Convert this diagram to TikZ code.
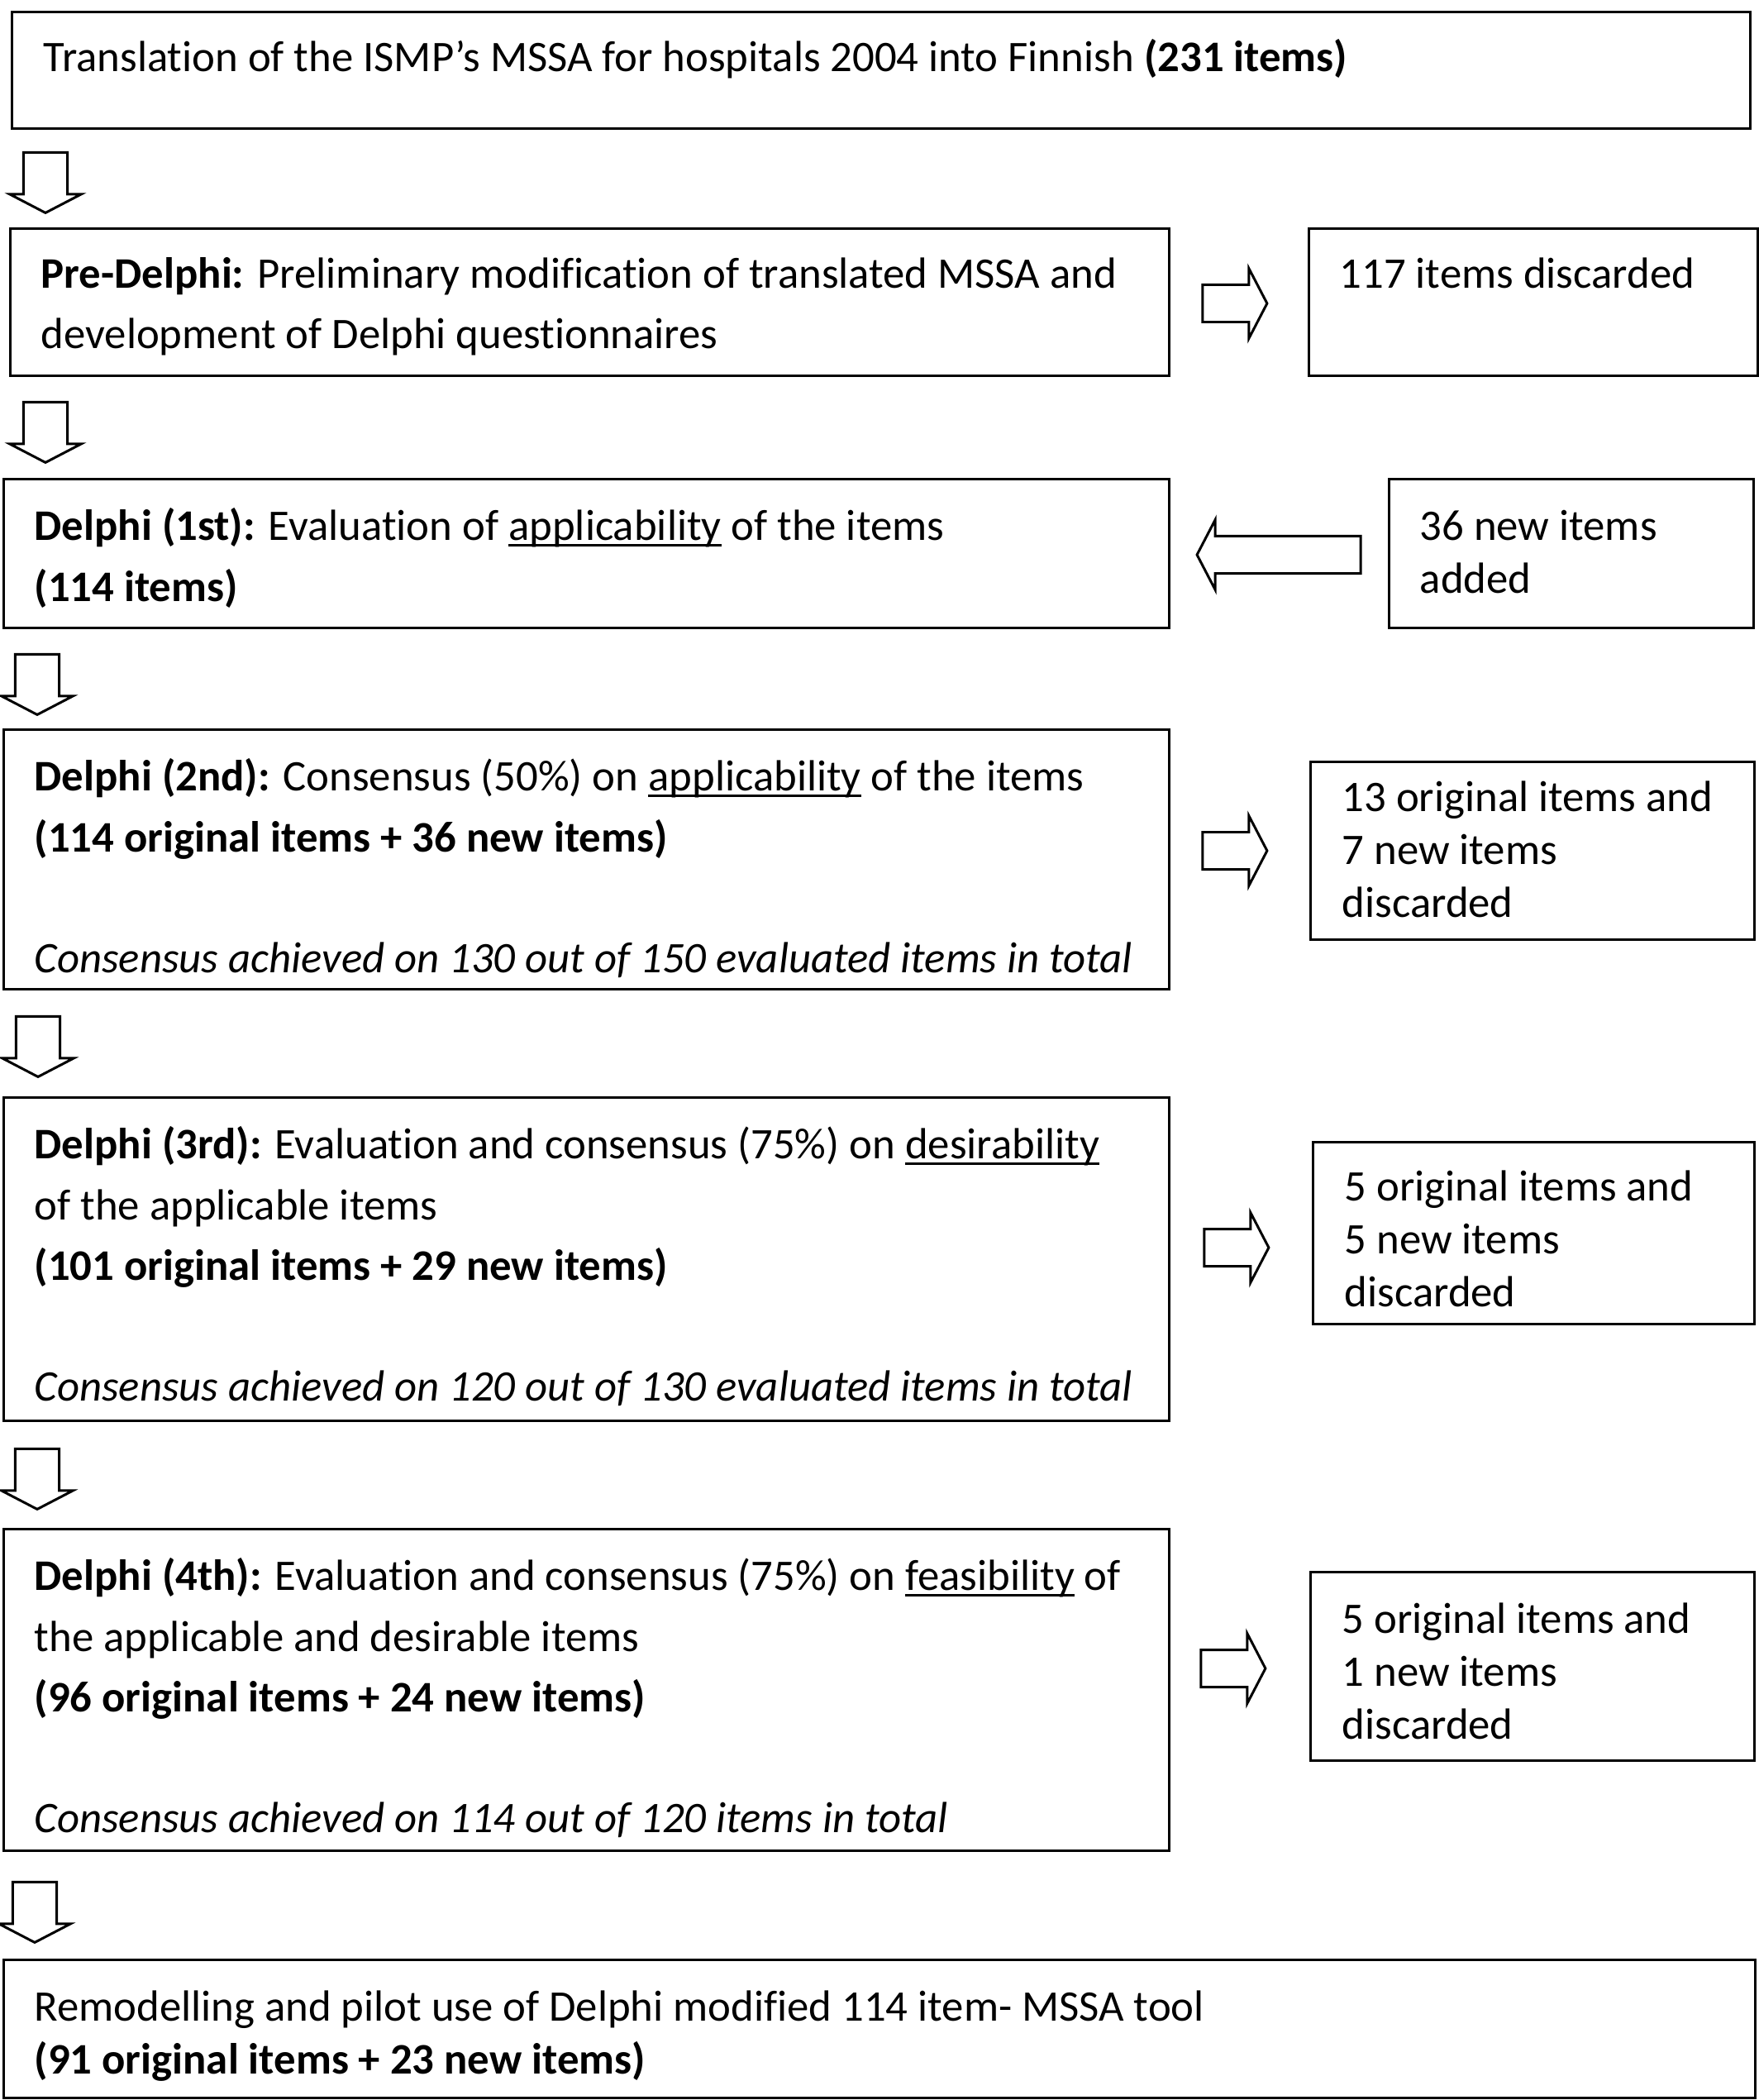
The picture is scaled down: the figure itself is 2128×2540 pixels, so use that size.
\documentclass[tikz,border=0pt]{standalone}
\usepackage{fontspec}
\setmainfont{Carlito}[Ligatures=NoCommon]
\usepackage{tikz}
\usetikzlibrary{shapes.arrows,positioning}

% underline sitting just under the baseline, as in the source
\newcommand{\uln}[1]{\setbox0\hbox{#1}\rlap{\rule[-0.13em]{\wd0}{0.06em}}\box0\relax}

\begin{document}
\begin{tikzpicture}[
  x=0.01cm, y=-0.01cm,
  box/.style={draw, line width=0.85pt, anchor=north west, inner sep=0pt},
  txt/.style={inner sep=0pt, align=left, font=\fontsize{15pt}{20.8pt}\selectfont},
  stxt/.style={txt, font=\fontsize{15pt}{18.2pt}\selectfont},
  darr/.style={draw, line width=0.85pt, single arrow, rotate=-90, minimum height=0.73cm, minimum width=0.84cm,
    inner xsep=0pt, inner ysep=0.25cm, single arrow head extend=0.17cm, single arrow tip angle=125},
  rarr/.style={draw, line width=0.85pt, single arrow, minimum height=0.78cm, minimum width=0.82cm,
    inner xsep=0pt, inner ysep=0.21cm, single arrow head extend=0.2cm, single arrow tip angle=125},
  node distance=0.36cm and 0.38cm
]
\useasboundingbox (0,0) rectangle (2128,2540);

% main column
\node[box, minimum width=21.02cm, minimum height=1.41cm] (trans) at (13,13) {};
\node[txt, below right=0.34cm and 0.39cm of trans.north west] (transtxt)
  {Translation of the ISMP’s MSSA for hospitals 2004 into Finnish \textbf{(231 items)}};

\node[box, minimum width=14.01cm, minimum height=1.78cm] (pre) at (11,275) {};
\node[txt, below right=of pre.north west] (pretxt)
  {\textbf{Pre-Delphi:} Preliminary modification of translated MSSA and\\
   development of Delphi questionnaires};

\node[box, minimum width=14.09cm, minimum height=1.80cm] (dfirst) at (3,578) {};
\node[txt, below right=of dfirst.north west] (dfirsttxt)
  {\textbf{Delphi (1st):} Evaluation of \uln{applicability} of the items\\
   \textbf{(114 items)}};

\node[box, minimum width=14.09cm, minimum height=3.14cm] (dsecond) at (3,881) {};
\node[txt, below right=of dsecond.north west] (dsecondtxt)
  {\textbf{Delphi (2nd):} Consensus (50\%) on \uln{applicability} of the items\\
   \textbf{(114 original items + 36 new items)}\\[0.73cm]
   \textit{Consensus achieved on 130 out of 150 evaluated items in total}};

\node[box, minimum width=14.09cm, minimum height=3.91cm] (dthird) at (3,1326) {};
\node[txt, below right=of dthird.north west] (dthirdtxt)
  {\textbf{Delphi (3rd):} Evaluation and consensus (75\%) on \uln{desirability}\\
   of the applicable items\\
   \textbf{(101 original items + 29 new items)}\\[0.73cm]
   \textit{Consensus achieved on 120 out of 130 evaluated items in total}};

\node[box, minimum width=14.09cm, minimum height=3.89cm] (dfourth) at (3,1848) {};
\node[txt, below right=of dfourth.north west] (dfourthtxt)
  {\textbf{Delphi (4th):} Evaluation and consensus (75\%) on \uln{feasibility} of\\
   the applicable and desirable items\\
   \textbf{(96 original items + 24 new items)}\\[0.73cm]
   \textit{Consensus achieved on 114 out of 120 items in total}};

\node[box, minimum width=21.18cm, minimum height=1.67cm] (final) at (3,2369) {};
\node[stxt, below right=0.38cm and 0.38cm of final.north west] (finaltxt)
  {Remodelling and pilot use of Delphi modified 114 item- MSSA tool\\
   \textbf{(91 original items + 23 new items)}};

% side boxes
\node[box, minimum width=5.43cm, minimum height=1.78cm] (discA) at (1582,275) {};
\node[stxt, below right=of discA.north west] (discAtxt) {117 items discarded};

\node[box, minimum width=4.41cm, minimum height=1.80cm] (added) at (1679,578) {};
\node[stxt, below right=0.38cm and 0.38cm of added.north west] (addedtxt) {36 new items\\added};

\node[box, minimum width=5.37cm, minimum height=2.15cm] (discB) at (1584,920) {};
\node[stxt, below right=0.24cm and 0.39cm of discB.north west] (discBtxt)
  {13 original items and\\7 new items\\discarded};

\node[box, minimum width=5.34cm, minimum height=2.20cm] (discC) at (1587,1380) {};
\node[stxt, below right=0.35cm and 0.39cm of discC.north west] (discCtxt)
  {5 original items and\\5 new items\\discarded};

\node[box, minimum width=5.37cm, minimum height=2.28cm] (discD) at (1584,1900) {};
\node[stxt, below right=0.38cm and 0.39cm of discD.north west] (discDtxt)
  {5 original items and\\1 new items\\discarded};

% block arrows
\node[darr] (down1) at (55,214) {};
\node[darr] (down2) at (55,516) {};
\node[darr] (down3) at (45,821) {};
\node[darr] (down4) at (46,1259) {};
\node[darr] (down5) at (45,1782) {};
\node[darr] (down6) at (42,2306) {};

\node[rarr] (toA) at (1488,367) {};
\node[rarr, rotate=180, minimum height=1.98cm] (fromadd) at (1553,671) {};
\node[rarr] (toB) at (1488,1029) {};
\node[rarr] (toC) at (1490,1509) {};
\node[rarr] (toD) at (1486,2018) {};

\end{tikzpicture}
\end{document}
